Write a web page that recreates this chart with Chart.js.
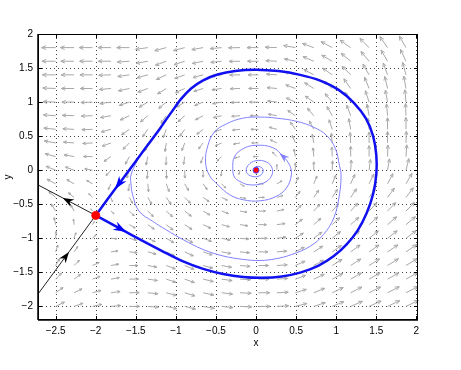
<!DOCTYPE html>
<html>
<head>
<meta charset="utf-8">
<script src="https://cdn.jsdelivr.net/npm/chart.js@4.4.1/dist/chart.umd.min.js"></script>
<style>
  html, body { margin: 0; padding: 0; background: #fff; }
  canvas { display: block; }
</style>
</head>
<body>
<canvas id="phase" width="461" height="370"></canvas>
<script>
// axis ticks
const xTicks = [-2.5, -2, -1.5, -1, -0.5, 0, 0.5, 1, 1.5, 2];
const yTicks = [-2, -1.5, -1, -0.5, 0, 0.5, 1, 1.5, 2];

// direction field grid (columns / rows, rows top to bottom)
const fieldX = [-2.5, -2.27, -2.04, -1.81, -1.58, -1.35, -1.12, -0.89, -0.66, -0.43, -0.2, 0.03, 0.26, 0.49, 0.72, 0.95, 1.18, 1.41, 1.64, 1.87];
const fieldY = [1.8, 1.6, 1.4, 1.2, 1.0, 0.8, 0.6, 0.4, 0.2, 0.0, -0.2, -0.4, -0.6, -0.8, -1.0, -1.2, -1.4, -1.6, -1.8, -2.0];

// arrow direction in degrees (as seen on the plot)
const fieldAngle = [
  [180,180,180,180,180,188,195,195,190,185,181,180,178,170,160,152,145,135,125,120],
  [180,180,180,180,184,190,200,198,192,186,181,180,177,168,157,150,140,130,120,115],
  [180,180,180,182,188,195,205,200,195,187,181,180,176,165,152,145,135,120,110,105],
  [178,180,180,185,192,200,212,205,197,188,182,180,175,160,148,140,125,112,103,100],
  [178,180,182,188,198,210,220,212,202,190,183,180,173,155,145,130,120,108,100,95],
  [176,178,182,190,205,220,235,222,208,193,184,180,170,145,130,120,110,100,95,92],
  [174,177,182,195,215,235,250,235,218,198,186,180,165,125,118,108,100,95,90,90],
  [170,175,183,200,225,250,262,250,232,205,190,180,155,112,100,95,93,90,90,88],
  [165,170,180,215,242,258,268,262,250,225,195,180,135,100,95,92,90,90,88,86],
  [158,160,170,228,252,265,272,272,270,265,255,180,90,90,90,88,86,83,80,76],
  [152,150,150,245,262,275,290,300,305,315,330,0,30,65,68,68,66,64,62,60],
  [140,140,135,290,298,300,305,315,325,335,350,0,18,52,56,57,56,55,54,53],
  [122,118,130,318,315,315,318,322,330,340,350,0,12,44,48,49,48,47,46,45],
  [102,96,60,338,330,325,322,327,335,345,352,0,8,38,42,43,42,42,41,40],
  [86,72,45,355,345,335,330,332,340,348,355,0,7,33,37,39,39,38,38,37],
  [72,56,32,8,355,345,335,335,342,350,355,0,5,28,33,35,36,35,34,34],
  [60,45,25,10,0,350,340,338,345,350,355,0,4,24,29,32,33,33,32,31],
  [46,36,20,10,1,352,342,341,347,352,357,0,4,20,25,28,30,30,29,29],
  [35,26,15,8,1,354,345,343,348,353,357,0,3,17,22,25,27,27,27,27],
  [26,19,12,5,0,355,348,346,350,354,357,0,3,14,18,22,23,24,25,25]
];

// relative arrow length
const fieldSpeed = [
  [1.0,.98,.95,.92,.9,.88,.85,.83,.82,.82,.82,.82,.83,.85,.87,.9,.92,.93,.95,.95],
  [.98,.95,.92,.9,.87,.85,.82,.8,.79,.78,.78,.78,.79,.8,.83,.86,.88,.9,.92,.93],
  [.95,.92,.9,.87,.84,.8,.78,.76,.75,.74,.74,.74,.75,.77,.8,.83,.86,.88,.9,.92],
  [.92,.9,.87,.83,.8,.76,.73,.72,.7,.7,.7,.7,.71,.73,.77,.8,.84,.87,.88,.9],
  [.9,.87,.83,.8,.76,.72,.7,.68,.66,.65,.65,.65,.67,.7,.74,.78,.82,.85,.87,.88],
  [.88,.84,.8,.76,.72,.68,.66,.64,.62,.6,.6,.6,.62,.66,.7,.75,.8,.83,.85,.87],
  [.85,.8,.76,.72,.68,.65,.63,.6,.57,.55,.54,.54,.57,.62,.67,.72,.77,.8,.83,.85],
  [.82,.76,.7,.66,.64,.63,.62,.58,.53,.5,.48,.48,.52,.58,.63,.7,.75,.78,.82,.84],
  [.78,.72,.64,.6,.62,.62,.6,.56,.5,.45,.4,.38,.45,.55,.62,.68,.74,.78,.82,.84],
  [.74,.66,.56,.52,.58,.6,.6,.56,.5,.42,.32,.15,.4,.52,.6,.67,.73,.78,.82,.85],
  [.7,.6,.48,.45,.52,.58,.6,.56,.5,.42,.35,.35,.42,.52,.6,.67,.73,.78,.82,.85],
  [.64,.52,.38,.35,.48,.56,.6,.58,.52,.46,.42,.42,.46,.54,.62,.68,.74,.78,.82,.86],
  [.58,.45,.2,.3,.48,.56,.6,.6,.56,.52,.5,.5,.52,.58,.64,.7,.75,.8,.84,.87],
  [.52,.4,.25,.35,.48,.56,.62,.62,.6,.58,.57,.57,.59,.63,.68,.73,.78,.82,.86,.88],
  [.5,.42,.35,.42,.52,.58,.63,.65,.64,.63,.63,.63,.65,.68,.72,.76,.8,.84,.87,.9],
  [.52,.47,.45,.5,.56,.61,.66,.68,.68,.68,.68,.68,.7,.72,.76,.8,.83,.86,.89,.92],
  [.56,.53,.52,.56,.61,.65,.69,.71,.72,.72,.72,.72,.74,.76,.79,.82,.86,.88,.91,.94],
  [.6,.58,.58,.61,.65,.69,.72,.74,.75,.76,.76,.76,.77,.79,.82,.85,.88,.9,.93,.95],
  [.65,.63,.63,.66,.7,.72,.75,.77,.78,.79,.8,.8,.81,.82,.85,.87,.9,.92,.94,.96],
  [.7,.68,.68,.7,.73,.76,.78,.8,.81,.82,.83,.83,.84,.85,.87,.89,.92,.94,.96,.98]
];

// homoclinic loop through the saddle
const loopX = [-2.0, -1.69, -1.42, -1.16, -0.91, -0.66, -0.41, -0.16, 0.08, 0.32, 0.56, 0.78, 0.97, 1.13, 1.27, 1.38, 1.46, 1.5, 1.5, 1.46, 1.37, 1.22, 1.03, 0.8, 0.55, 0.28, 0.0, -0.26, -0.48, -0.66, -0.81, -0.94, -1.05, -1.13, -1.2, -1.4, -1.6, -1.71, -2.0];
const loopY = [-0.664, -0.862, -1.035, -1.195, -1.34, -1.45, -1.525, -1.568, -1.58, -1.56, -1.5, -1.4, -1.26, -1.09, -0.88, -0.63, -0.35, -0.06, 0.22, 0.5, 0.76, 0.99, 1.18, 1.315, 1.4, 1.455, 1.476, 1.458, 1.405, 1.32, 1.2, 1.04, 0.86, 0.73, 0.61, 0.292, -0.026, -0.2, -0.664];
const loopArrows = [1, 37];

// trajectory spiralling into the origin
const spiralX = [-1.48, -1.56, -1.56, -1.54, -1.46, -1.29, -1.125, -0.91, -0.66, -0.41, -0.16, 0.05, 0.25, 0.44, 0.675, 0.84, 0.97, 1.04, 1.06, 1.04, 0.99, 0.88, 0.72, 0.51, 0.25, 0.05, -0.16, -0.37, -0.52, -0.6, -0.63, -0.58, -0.475, -0.33, -0.16, 0.05, 0.25, 0.38, 0.44, 0.42, 0.34, 0.21, 0.0, -0.16, -0.27, -0.29, -0.27, -0.2, -0.08, 0.09, 0.19, 0.2, 0.13, 0.0, -0.1, -0.12, -0.05, 0.05, 0.09, 0.05, 0.0, -0.03, 0.0, 0.01];
const spiralY = [0.15, -0.07, -0.2, -0.36, -0.6, -0.75, -0.873, -1.02, -1.165, -1.26, -1.31, -1.326, -1.30, -1.24, -1.117, -0.946, -0.70, -0.36, -0.07, 0.07, 0.316, 0.51, 0.63, 0.716, 0.765, 0.78, 0.765, 0.68, 0.56, 0.366, 0.12, -0.08, -0.215, -0.36, -0.434, -0.45, -0.385, -0.26, -0.07, 0.07, 0.2, 0.33, 0.366, 0.316, 0.195, 0.02, -0.1, -0.166, -0.215, -0.19, -0.09, 0.03, 0.12, 0.14, 0.07, -0.03, -0.09, -0.08, 0.0, 0.05, 0.05, 0.01, -0.03, 0.0];
const spiralArrows = [40];

// separatrices leaving the plot to the left
const stableX = [-2.72, -2.375, -2.0];
const stableY = [-1.82, -1.266, -0.664];
const unstableX = [-2.0, -2.35, -2.72];
const unstableY = [-0.664, -0.446, -0.216];
const lineArrows = [1];

// equilibria: saddle and focus
const eqX = [-2.0, 0.0];
const eqY = [-0.664, 0.0];

const pts = (xs, ys) => xs.map((v, i) => ({ x: v, y: ys[i] }));
const FONT = '"Liberation Sans", Arial, Helvetica, sans-serif';

const fieldPlugin = {
  id: 'field',
  beforeDatasetsDraw(chart) {
    const { ctx, chartArea: a, scales: { x, y } } = chart;
    ctx.save();
    // dotted grid
    ctx.strokeStyle = '#444';
    ctx.lineWidth = 1;
    ctx.setLineDash([1, 3]);
    xTicks.forEach(v => {
      const px = Math.round(x.getPixelForValue(v)) + 0.5;
      ctx.beginPath(); ctx.moveTo(px, a.top); ctx.lineTo(px, a.bottom); ctx.stroke();
    });
    yTicks.forEach(v => {
      const py = Math.round(y.getPixelForValue(v)) + 0.5;
      ctx.beginPath(); ctx.moveTo(a.left, py); ctx.lineTo(a.right, py); ctx.stroke();
    });
    ctx.setLineDash([]);
    // quiver
    ctx.strokeStyle = '#a8a8a8';
    ctx.lineWidth = 1;
    const maxLen = 14;
    fieldY.forEach((fy, j) => {
      fieldX.forEach((fx, k) => {
        const L = fieldSpeed[j][k] * maxLen;
        const t = fieldAngle[j][k] * Math.PI / 180;
        const x0 = x.getPixelForValue(fx), y0 = y.getPixelForValue(fy);
        const x1 = x0 + L * Math.cos(t), y1 = y0 - L * Math.sin(t);
        const h = L * 0.34, w = 0.42;
        ctx.beginPath();
        ctx.moveTo(x0, y0); ctx.lineTo(x1, y1);
        ctx.moveTo(x1 - h * Math.cos(t - w), y1 + h * Math.sin(t - w));
        ctx.lineTo(x1, y1);
        ctx.lineTo(x1 - h * Math.cos(t + w), y1 + h * Math.sin(t + w));
        ctx.stroke();
      });
    });
    ctx.restore();
  },
  afterDatasetsDraw(chart) {
    const { ctx, scales: { x, y } } = chart;
    const head = (xs, ys, i, len, wid, color) => {
      const ax = x.getPixelForValue(xs[i]), ay = y.getPixelForValue(ys[i]);
      const bx = x.getPixelForValue(xs[i + 1]), by = y.getPixelForValue(ys[i + 1]);
      const t = Math.atan2(by - ay, bx - ax);
      const c = Math.cos(t), s = Math.sin(t);
      const tx = ax + c * len * 0.5, ty = ay + s * len * 0.5;
      ctx.fillStyle = color;
      ctx.beginPath();
      ctx.moveTo(tx, ty);
      ctx.lineTo(tx - c * len - s * wid, ty - s * len + c * wid);
      ctx.lineTo(tx - c * len * 0.7, ty - s * len * 0.7);
      ctx.lineTo(tx - c * len + s * wid, ty - s * len - c * wid);
      ctx.closePath();
      ctx.fill();
    };
    ctx.save();
    loopArrows.forEach(i => head(loopX, loopY, i, 13, 4.5, '#0000ff'));
    spiralArrows.forEach(i => head(spiralX, spiralY, i, 10, 3.5, '#8080ff'));
    lineArrows.forEach(i => {
      head(stableX, stableY, i, 11, 4, '#000');
      head(unstableX, unstableY, i, 11, 4, '#000');
    });
    ctx.restore();
  },
  afterDraw(chart) {
    const { ctx, chartArea: a, scales: { x, y } } = chart;
    ctx.save();
    ctx.strokeStyle = '#000';
    ctx.lineWidth = 1;
    ctx.strokeRect(a.left + 0.5, a.top + 0.5, a.right - a.left - 1, a.bottom - a.top - 1);
    ctx.lineWidth = 1.5;
    ctx.beginPath();
    ctx.moveTo(a.left, a.bottom); ctx.lineTo(a.right, a.bottom);
    ctx.moveTo(a.left, a.top); ctx.lineTo(a.left, a.bottom);
    ctx.stroke();
    ctx.lineWidth = 1;
    ctx.beginPath();
    xTicks.forEach(v => {
      const px = Math.round(x.getPixelForValue(v)) + 0.5;
      ctx.moveTo(px, a.bottom); ctx.lineTo(px, a.bottom - 4);
      ctx.moveTo(px, a.top); ctx.lineTo(px, a.top + 4);
    });
    yTicks.forEach(v => {
      const py = Math.round(y.getPixelForValue(v)) + 0.5;
      ctx.moveTo(a.left, py); ctx.lineTo(a.left + 4, py);
      ctx.moveTo(a.right, py); ctx.lineTo(a.right - 4, py);
    });
    ctx.stroke();
    // x axis label, set under the zero tick as in the reference
    ctx.fillStyle = '#000';
    ctx.font = '10px ' + FONT;
    ctx.textAlign = 'center';
    ctx.textBaseline = 'middle';
    ctx.fillText('x', x.getPixelForValue(0), a.bottom + 23);
    ctx.restore();
  }
};

const fmt = v => String(v).replace('-', '\u2212');

new Chart(document.getElementById('phase').getContext('2d'), {
  type: 'scatter',
  data: {
    datasets: [
      { data: pts(eqX, eqY), pointRadius: [4, 3], pointBackgroundColor: '#ff0000', pointBorderColor: ['#ff0000', '#5050ff'], pointBorderWidth: 1, showLine: false, order: 0 },
      { data: pts(loopX, loopY), showLine: true, borderColor: '#1010f0', borderWidth: 2.5, pointRadius: 0, tension: 0.3, order: 1 },
      { data: pts(stableX, stableY), showLine: true, borderColor: '#222', borderWidth: 1, pointRadius: 0, order: 2 },
      { data: pts(unstableX, unstableY), showLine: true, borderColor: '#222', borderWidth: 1, pointRadius: 0, order: 2 },
      { data: pts(spiralX, spiralY), showLine: true, borderColor: '#8080ff', borderWidth: 1, pointRadius: 0, tension: 0.4, order: 3 }
    ]
  },
  options: {
    responsive: false,
    animation: false,
    devicePixelRatio: 1,
    layout: { padding: { top: 34, right: 43, left: 0, bottom: 0 } },
    plugins: { legend: { display: false }, tooltip: { enabled: false } },
    scales: {
      x: {
        type: 'linear', min: -2.72, max: 2.02,
        afterBuildTicks: s => { s.ticks = xTicks.map(v => ({ value: v })); },
        afterFit: s => { s.height = 50; },
        grid: { display: false, drawTicks: false },
        border: { display: false },
        ticks: { padding: 5, color: '#000', font: { family: FONT, size: 10 }, callback: fmt, maxRotation: 0, autoSkip: false },
        title: { display: false }
      },
      y: {
        type: 'linear', min: -2.2, max: 2,
        afterBuildTicks: s => { s.ticks = yTicks.map(v => ({ value: v })); },
        afterFit: s => { s.width = 38; },
        grid: { display: false, drawTicks: false },
        border: { display: false },
        ticks: { padding: 5, color: '#000', font: { family: FONT, size: 10 }, callback: fmt, autoSkip: false },
        title: { display: true, text: 'y', color: '#000', font: { family: FONT, size: 10 }, padding: { top: 2, bottom: 0 } }
      }
    }
  },
  plugins: [fieldPlugin]
});
</script>
</body>
</html>
